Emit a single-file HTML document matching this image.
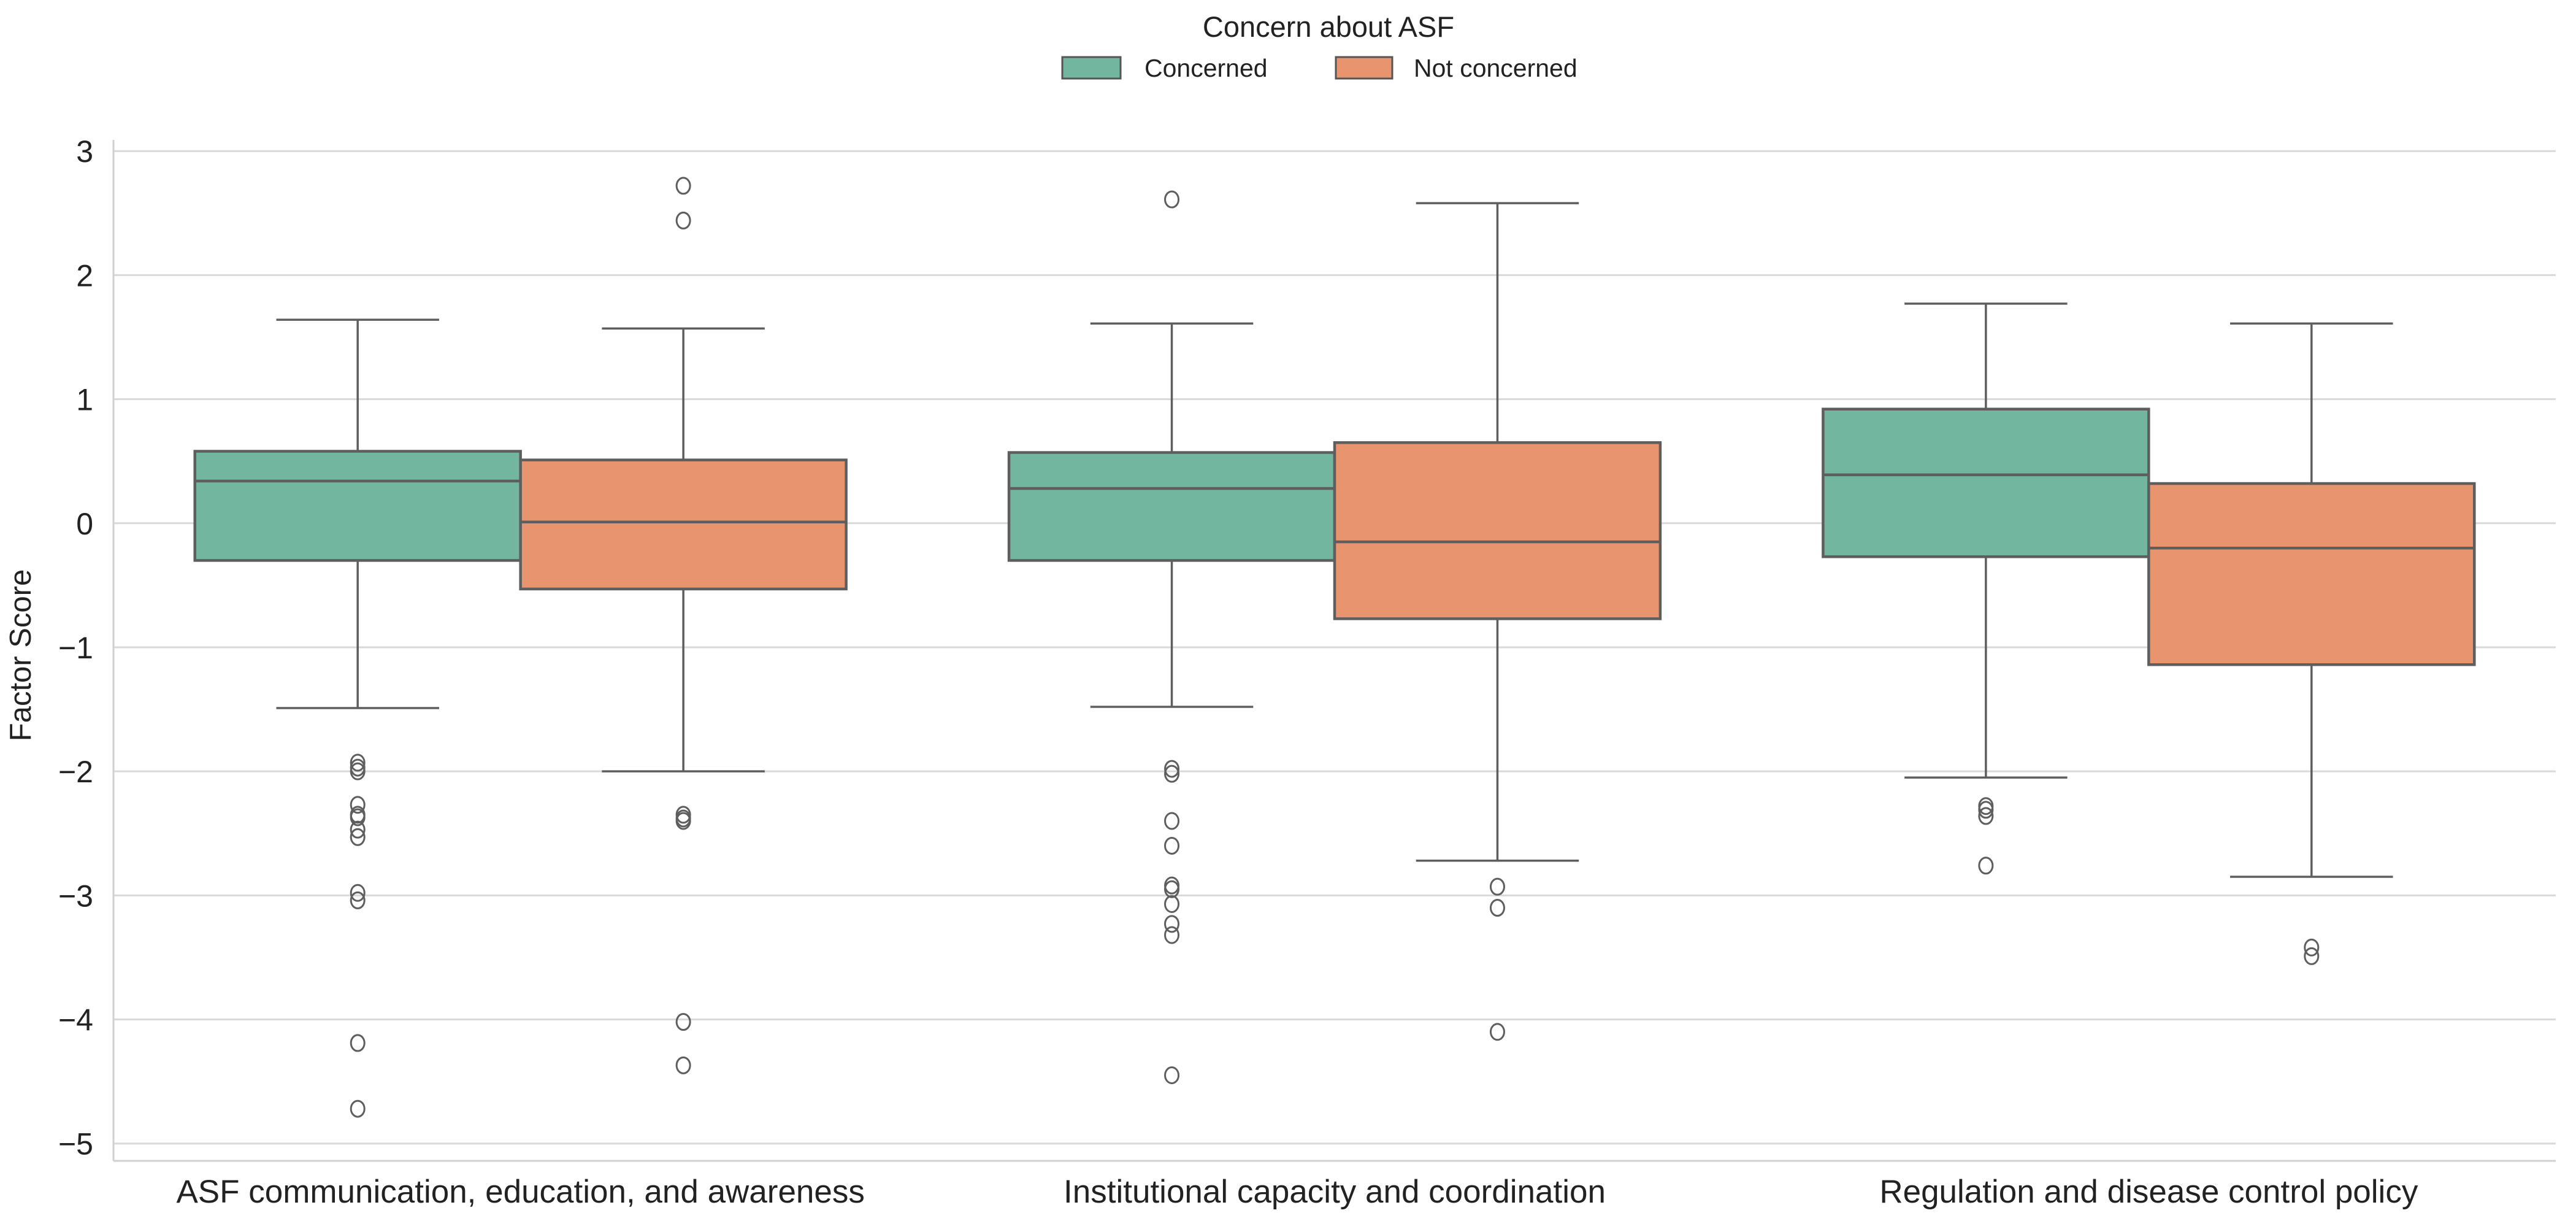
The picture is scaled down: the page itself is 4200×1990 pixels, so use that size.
<!DOCTYPE html>
<html><head><meta charset="utf-8"><style>
html,body{margin:0;padding:0;background:#fff;}
svg{display:block;font-family:"Liberation Sans",Arial,sans-serif;}
</style></head><body>
<svg id="chart" width="4200" height="1990" viewBox="0 0 4200 1990" xmlns="http://www.w3.org/2000/svg">
<g id="grid"></g>
<g id="boxes"></g>
<g id="axes"></g>
<text x="50" y="1068" font-size="49" fill="#222" text-anchor="middle" transform="rotate(-90 50 1068)">Factor Score</text>
<g>
<text x="2166" y="60" font-size="47" fill="#222" text-anchor="middle">Concern about ASF</text>
<rect x="1732" y="93" width="95" height="35" fill="#73b6a0" stroke="#555" stroke-width="3"/>
<text x="1866" y="125" font-size="41" fill="#222">Concerned</text>
<rect x="2178" y="93" width="92" height="35" fill="#e8956f" stroke="#555" stroke-width="3"/>
<text x="2305" y="125" font-size="41" fill="#222">Not concerned</text>
</g>
</svg>
<script>
const categories = ["ASF communication, education, and awareness","Institutional capacity and coordination","Regulation and disease control policy"];
const groups = ["Concerned","Not concerned"];
const groupColors = ["#73b6a0","#e8956f"];
const yTicks = [3,2,1,0,-1,-2,-3,-4,-5];
const yTickLabels = ["3","2","1","0","\u22121","\u22122","\u22123","\u22124","\u22125"];
// [whiskerLow, q1, median, q3, whiskerHigh] per category, per group
const concernedStats = [[-1.49,-0.30,0.34,0.58,1.64],[-1.48,-0.30,0.28,0.57,1.61],[-2.05,-0.27,0.39,0.92,1.77]];
const notConcernedStats = [[-2.00,-0.53,0.01,0.51,1.57],[-2.72,-0.77,-0.15,0.65,2.58],[-2.85,-1.14,-0.20,0.32,1.61]];
const concernedOutliers = [[-1.93,-1.97,-2.00,-2.27,-2.35,-2.37,-2.47,-2.53,-2.98,-3.04,-4.19,-4.72],[2.61,-1.98,-2.02,-2.40,-2.60,-2.92,-2.95,-3.07,-3.23,-3.32,-4.45],[-2.28,-2.31,-2.36,-2.76]];
const notConcernedOutliers = [[2.72,2.44,-2.35,-2.38,-2.40,-4.02,-4.37],[-2.93,-3.10,-4.10],[-3.42,-3.49]];

const NS="http://www.w3.org/2000/svg";
const X0=185, X1=4167, YTOP=228, YBOT=1892;
const yMin=-5.14, yMax=3.09;
function y(v){return YBOT-(v-yMin)/(yMax-yMin)*(YBOT-YTOP);}
const catW=(X1-X0)/categories.length;
function xCat(i){return X0+catW*(i+0.5);}
function xGroup(i,g){return xCat(i)+(g===0?-0.2:0.2)*catW;}
const boxW=0.4*catW;
function el(tag,attrs,parent){const e=document.createElementNS(NS,tag);for(const k in attrs)e.setAttribute(k,attrs[k]);parent.appendChild(e);return e;}

const grid=document.getElementById('grid');
yTicks.forEach((t,i)=>{
  const l=el('line',{x1:X0,x2:X1,y1:y(t),y2:y(t),stroke:'#d9d9d9','stroke-width':3},grid);
  
  
  const tx=el('text',{x:152,y:y(t)+18,'font-size':50,fill:'#222','text-anchor':'end'},grid);
  tx.textContent=yTickLabels[i];
  
  
});
const axes=document.getElementById('axes');
const ls=el('line',{x1:X0,x2:X0,y1:YTOP,y2:YBOT,stroke:'#d0d0d0','stroke-width':3},axes);


const bs=el('line',{x1:X0,x2:X1,y1:YBOT,y2:YBOT,stroke:'#d0d0d0','stroke-width':3},axes);


categories.forEach((c,i)=>{
  const t=el('text',{x:xCat(i),y:1960,'font-size':53,fill:'#222','text-anchor':'middle'},axes);
  t.textContent=c;
  
  
});

const boxes=document.getElementById('boxes');
const allStats=[concernedStats,notConcernedStats];
const allOut=[concernedOutliers,notConcernedOutliers];
const LC='#5e5e5e';
categories.forEach((c,i)=>{
  groups.forEach((gname,g)=>{
    const s=allStats[g][i];
    const cx=xGroup(i,g);
    const grp=el('g',{},boxes);
    
    
    const w1=el('line',{x1:cx,x2:cx,y1:y(s[4]),y2:y(s[3]),stroke:LC,'stroke-width':3.5},grp);
    
    
    const w2=el('line',{x1:cx,x2:cx,y1:y(s[1]),y2:y(s[0]),stroke:LC,'stroke-width':3.5},grp);
    
    
    [s[4],s[0]].forEach(v=>{
      const cap=el('line',{x1:cx-boxW/4,x2:cx+boxW/4,y1:y(v),y2:y(v),stroke:LC,'stroke-width':3.5},grp);
      
      
    });
    const r=el('rect',{x:cx-boxW/2,y:y(s[3]),width:boxW,height:y(s[1])-y(s[3]),fill:groupColors[g],stroke:LC,'stroke-width':4.5},grp);
    
    
    const m=el('line',{x1:cx-boxW/2,x2:cx+boxW/2,y1:y(s[2]),y2:y(s[2]),stroke:LC,'stroke-width':4.5},grp);
    
    
    allOut[g][i].forEach(v=>{
      const o=el('ellipse',{cx:cx,cy:y(v),rx:11,ry:13,fill:'none',stroke:LC,'stroke-width':3},grp);
      
      
    });
  });
});
</script>
</body></html>
